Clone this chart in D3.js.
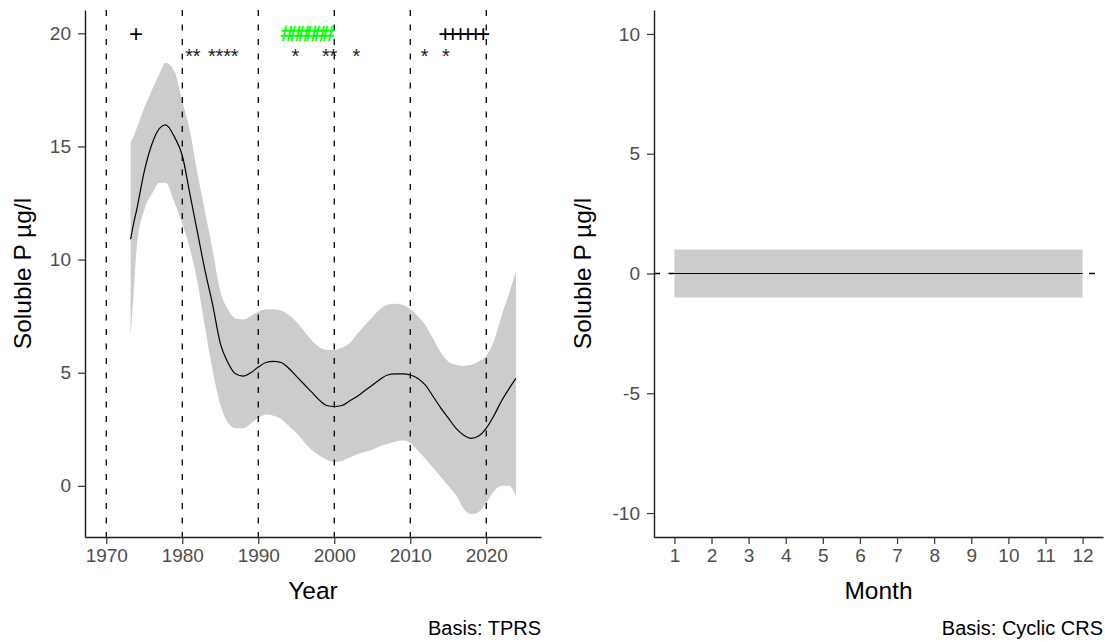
<!DOCTYPE html>
<html lang="en">
  <head>
    <meta charset="UTF-8" />
    <title>Soluble P smooths</title>
    <style>
      body { margin: 0; background: #fff; }
      svg text { font-family: "Liberation Sans", Arial, sans-serif; }
    </style>
  </head>
  <body>
    <svg width="1105" height="642"></svg>

    <script src="https://d3js.org/d3.v7.min.js"></script>
    <script>
      // Left panel: trend over years (TPRS)
      const years = [1973.2, 1973.6, 1974, 1975, 1976, 1977, 1977.8, 1979, 1980, 1981, 1982, 1983, 1984, 1985, 1986,
        1987, 1988, 1989, 1990, 1991, 1992, 1993, 1994, 1995, 1996, 1997, 1998, 1999, 2000, 2001, 2002, 2003,
        2004, 2005, 2006, 2007, 2008, 2009, 2010, 2011, 2012, 2013, 2014, 2015, 2016, 2017, 2018, 2019, 2020,
        2021, 2022, 2023, 2023.9];
      const fit = [10.9, 11.6, 12.2, 13.9, 15.1, 15.8, 15.95, 15.4, 14.6, 12.9, 11.2, 9.5, 8.0, 6.3, 5.45,
        4.95, 4.85, 5.0, 5.25, 5.45, 5.5, 5.45, 5.2, 4.85, 4.5, 4.15, 3.8, 3.55, 3.5, 3.55, 3.75, 3.95,
        4.2, 4.45, 4.7, 4.9, 4.95, 4.95, 4.9, 4.75, 4.45, 3.95, 3.45, 3.0, 2.55, 2.25, 2.1, 2.2, 2.55,
        3.1, 3.75, 4.3, 4.75];
      const upper = [15.2, 15.45, 15.8, 16.7, 17.5, 18.2, 18.7, 18.3, 17.0, 15.7, 13.8, 12.1, 10.4, 8.6, 7.8,
        7.4, 7.35, 7.5, 7.7, 7.8, 7.8, 7.75, 7.55, 7.25, 6.85, 6.45, 6.15, 6.0, 6.0, 6.1, 6.3, 6.7,
        7.1, 7.45, 7.8, 8.0, 8.05, 8.0, 7.8, 7.5, 7.1, 6.5, 5.9, 5.5, 5.35, 5.3, 5.35, 5.5, 5.75,
        6.4, 7.5, 8.5, 9.5];
      const lower = [6.6, 8.5, 10.5, 12.2, 12.9, 13.4, 13.4, 12.5, 11.6, 10.5, 9.0, 7.0, 5.1, 3.6, 2.8,
        2.55, 2.55, 2.75, 3.0, 3.15, 3.1, 2.95, 2.65, 2.35, 1.95, 1.6, 1.35, 1.15, 1.05, 1.1, 1.25, 1.4,
        1.5, 1.6, 1.75, 1.85, 1.95, 2.0, 1.9, 1.55, 1.2, 0.8, 0.4, 0.0, -0.4, -1.0, -1.25, -1.15, -0.75,
        -0.25, 0.0, 0.0, -0.45];
      const decades = [1970, 1980, 1990, 2000, 2010, 2020];
      const yearTicks = [1970, 1980, 1990, 2000, 2010, 2020];
      const leftYTicks = [0, 5, 10, 15, 20];

      // significance markers along the top
      const plusYears = [1973.9, 2014.6, 2015.6, 2016.6, 2017.6, 2018.6, 2019.6];
      const plusLevel = 20;
      const hashYears = [1993.8, 1994.9, 1996.0, 1997.0, 1998.1, 1999.2];
      const hashLevel = 20;
      const starYears = [1980.9, 1981.9, 1983.9, 1984.9, 1985.9, 1986.9, 1994.9, 1998.9, 1999.9,
        2002.9, 2011.9, 2014.7];
      const starLevel = 19.2;

      // Right panel: cyclic month effect
      const months = [1, 2, 3, 4, 5, 6, 7, 8, 9, 10, 11, 12];
      const monthFit = [0, 0, 0, 0, 0, 0, 0, 0, 0, 0, 0, 0];
      const monthUpper = [1, 1, 1, 1, 1, 1, 1, 1, 1, 1, 1, 1];
      const monthLower = [-1, -1, -1, -1, -1, -1, -1, -1, -1, -1, -1, -1];
      const rightYTicks = [-10, -5, 0, 5, 10];

      const svg = d3.select("svg");
      const panelTop = 10, panelBottom = 537;
      const tickFmt = d => String(d);

      const xL = d3.scaleLinear().domain([1967.2, 2027.2]).range([85, 541]);
      const yL = d3.scaleLinear().domain([-2.26, 21.03]).range([panelBottom, panelTop]);
      const xR = d3.scaleLinear().domain([0.45, 12.55]).range([654, 1103]);
      const yR = d3.scaleLinear().domain([-11, 11]).range([panelBottom, panelTop]);

      const leftRows = years.map((d, i) => ({ x: d, f: fit[i], lo: lower[i], hi: upper[i] }));
      const rightRows = months.map((d, i) => ({ x: d, f: monthFit[i], lo: monthLower[i], hi: monthUpper[i] }));

      function drawBand(g, rows, x, y, curve) {
        g.append("path")
          .datum(rows)
          .attr("fill", "#cccccc")
          .attr("d", d3.area().curve(curve).x(d => x(d.x)).y0(d => y(d.lo)).y1(d => y(d.hi)));
      }

      function drawLine(g, rows, x, y, curve) {
        g.append("path")
          .datum(rows)
          .attr("fill", "none")
          .attr("stroke", "#000")
          .attr("stroke-width", 1.2)
          .attr("d", d3.line().curve(curve).x(d => x(d.x)).y(d => y(d.f)));
      }

      function styleAxis(g) {
        g.select(".domain").attr("stroke", "#1a1a1a").attr("stroke-width", 1.4);
        g.selectAll(".tick line").attr("stroke", "#333").attr("stroke-width", 1.2);
        g.selectAll(".tick text").attr("fill", "#4d4d4d").style("font-size", "19px");
      }

      function axisTitle(g, x, y, label, rotate) {
        g.append("text")
          .attr("transform", rotate ? `translate(${x},${y}) rotate(-90)` : `translate(${x},${y})`)
          .attr("text-anchor", "middle").style("font-size", "24.5px").attr("fill", "#000")
          .text(label);
      }

      // ---- left panel ----
      const left = svg.append("g");
      drawBand(left, leftRows, xL, yL, d3.curveMonotoneX);

      left.selectAll(".vline")
        .data(decades)
        .join("line")
        .attr("x1", d => xL(d)).attr("x2", d => xL(d))
        .attr("y1", panelTop).attr("y2", panelBottom)
        .attr("stroke", "#000")
        .attr("stroke-width", 1.3)
        .attr("stroke-dasharray", "6,8.5");

      drawLine(left, leftRows, xL, yL, d3.curveMonotoneX);

      left.selectAll(".hash")
        .data(hashYears)
        .join("text")
        .attr("x", d => xL(d))
        .attr("y", d => yL(hashLevel) + 22 * 0.35)
        .attr("text-anchor", "middle")
        .attr("fill", "#00ff00")
        .attr("stroke", "#00ff00")
        .attr("stroke-width", 0.6)
        .style("font-size", "22px")
        .text("#");

      left.selectAll(".plus")
        .data(plusYears)
        .join("text")
        .attr("x", d => xL(d))
        .attr("y", d => yL(plusLevel) + 24 * 0.35)
        .attr("text-anchor", "middle")
        .attr("fill", "#000")
        .style("font-size", "24px")
        .text("+");

      left.selectAll(".star")
        .data(starYears)
        .join("text")
        .attr("x", d => xL(d))
        .attr("y", d => yL(starLevel) + 20 * 0.58)
        .attr("text-anchor", "middle")
        .attr("fill", "#1a1a1a")
        .style("font-size", "20px")
        .text("*");

      const lx = left.append("g")
        .attr("transform", `translate(0,${panelBottom})`)
        .call(d3.axisBottom(xL).tickValues(yearTicks).tickFormat(tickFmt).tickSize(7).tickPadding(5).tickSizeOuter(0));
      styleAxis(lx);
      const ly = left.append("g")
        .attr("transform", `translate(85,0)`)
        .call(d3.axisLeft(yL).tickValues(leftYTicks).tickFormat(tickFmt).tickSize(7).tickPadding(7).tickSizeOuter(0));
      styleAxis(ly);

      axisTitle(left, (85 + 541) / 2, 599, "Year", false);
      axisTitle(left, 31, (panelTop + panelBottom) / 2, "Soluble P µg/l", true);
      left.append("text")
        .attr("x", 541).attr("y", 635)
        .attr("text-anchor", "end").style("font-size", "20px").attr("fill", "#000")
        .text("Basis: TPRS");

      // ---- right panel ----
      const right = svg.append("g");
      right.append("line")
        .attr("x1", 654).attr("x2", 1103)
        .attr("y1", yR(0)).attr("y2", yR(0))
        .attr("stroke", "#000")
        .attr("stroke-width", 1.3)
        .attr("stroke-dasharray", "6,8.5");
      drawBand(right, rightRows, xR, yR, d3.curveLinear);
      drawLine(right, rightRows, xR, yR, d3.curveLinear);

      const rx = right.append("g")
        .attr("transform", `translate(0,${panelBottom})`)
        .call(d3.axisBottom(xR).tickValues(months).tickFormat(tickFmt).tickSize(7).tickPadding(5).tickSizeOuter(0));
      styleAxis(rx);
      const ry = right.append("g")
        .attr("transform", `translate(654,0)`)
        .call(d3.axisLeft(yR).tickValues(rightYTicks).tickFormat(tickFmt).tickSize(7).tickPadding(7).tickSizeOuter(0));
      styleAxis(ry);

      axisTitle(right, (654 + 1103) / 2, 599, "Month", false);
      axisTitle(right, 591, (panelTop + panelBottom) / 2, "Soluble P µg/l", true);
      right.append("text")
        .attr("x", 1103).attr("y", 635)
        .attr("text-anchor", "end").style("font-size", "20px").attr("fill", "#000")
        .text("Basis: Cyclic CRS");
    </script>
  </body>
</html>
